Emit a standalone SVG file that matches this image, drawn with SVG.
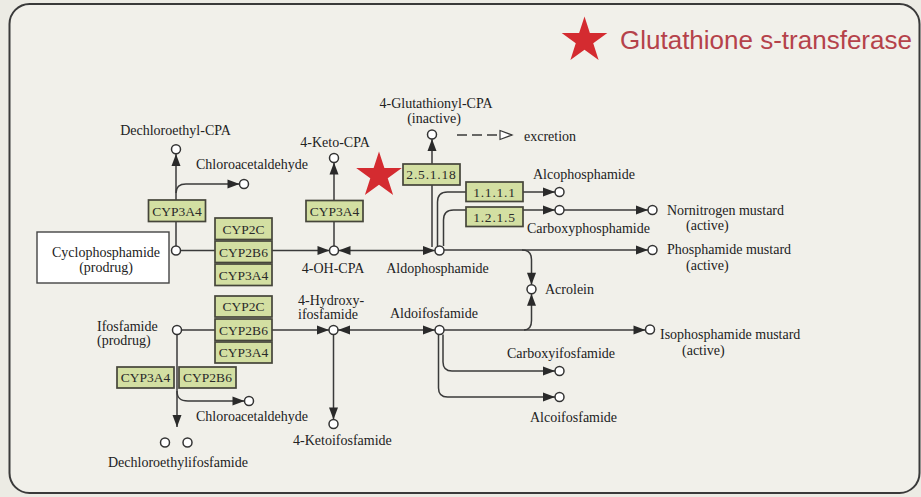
<svg xmlns="http://www.w3.org/2000/svg" width="921" height="497" viewBox="0 0 921 497">
  <defs>
    <style>
      .ln { fill: none; stroke: #3a3a3a; stroke-width: 1.5; }
      .arr { marker-end: url(#head); }
      .dash { fill: none; stroke: #3a3a3a; stroke-width: 1.3; stroke-dasharray: 10 5; marker-end: url(#openhead); }
      .cpd { fill: #ffffff; stroke: #333333; stroke-width: 1.5; }
      .enz rect { fill: #d3dfa2; stroke: #45453a; stroke-width: 1.7; }
      .enz text { font-family: "Liberation Serif", "Times New Roman", serif; font-size: 13.5px; fill: #2a2a2a; text-anchor: middle; }
      .lbl { font-family: "Liberation Serif", "Times New Roman", serif; font-size: 14px; fill: #222222; }
      .mid { text-anchor: middle; }
      .star { fill: #d42b30; }
    </style>
    <marker id="head" markerUnits="userSpaceOnUse" markerWidth="12" markerHeight="10" refX="12" refY="4.5" orient="auto" overflow="visible">
      <path d="M0,0 L12,4.5 L0,9 Z" fill="#2a2a2a"/>
    </marker>
    <marker id="openhead" markerUnits="userSpaceOnUse" markerWidth="13" markerHeight="10" refX="12" refY="4.5" orient="auto" overflow="visible">
      <path d="M0,0 L12,4.5 L0,9 Z" fill="#ffffff" stroke="#3a3a3a" stroke-width="1.2"/>
    </marker>
    <path id="star5" d="M0,-24 L5.39,-7.42 L22.83,-7.42 L8.72,2.83 L14.11,19.42 L0,9.17 L-14.11,19.42 L-8.72,2.83 L-22.83,-7.42 L-5.39,-7.42 Z"/>
  </defs>

  <!-- page and frame -->
  <rect x="0" y="0" width="921" height="497" fill="#ecebe4"/>
  <rect x="9.5" y="4" width="910" height="489" rx="20" ry="20" fill="#f1f0ea" stroke="#3a3a3a" stroke-width="2"/>

  <!-- legend -->
  <g id="legend">
    <use href="#star5" class="star" transform="translate(584.5,40.5)"/>
    <text x="620" y="49" font-family="'Liberation Sans', Arial, sans-serif" font-size="26" fill="#b5424a">Glutathione s-transferase</text>
  </g>

  <!-- reactions -->
  <g id="connectors">
    <!-- cyclophosphamide branch -->
    <path class="ln arr" d="M176,246 V154"/>
    <path class="ln arr" d="M176,193 C176,187 179,184 186,184 H239.5"/>
    <path class="ln arr" d="M180.5,250.5 H329.5"/>
    <path class="ln arr" d="M334,246 V162.5"/>
    <path class="ln arr" d="M387,250.5 H338.5"/>
    <path class="ln arr" d="M387,250.5 H435"/>
    <path class="ln arr" d="M432,247 V139"/>
    <path class="dash" d="M457,135 H512"/>
    <path class="ln arr" d="M437.5,246 V202 Q437.5,192 447.5,192 H555"/>
    <path class="ln arr" d="M443.5,246 V220 Q443.5,210 453.5,210 H555"/>
    <path class="ln arr" d="M564,210 H648"/>
    <path class="ln arr" d="M444,250 H648"/>
    <path class="ln arr" d="M522,250 Q531.5,250 531.5,259.5 V284.8"/>
    <path class="ln arr" d="M524,330 Q531.5,330 531.5,320.5 V293.8"/>
    <!-- ifosfamide branch -->
    <path class="ln arr" d="M181.5,330 H329"/>
    <path class="ln arr" d="M387,330 H338"/>
    <path class="ln arr" d="M387,330 H435"/>
    <path class="ln arr" d="M444,330 H645.5"/>
    <path class="ln arr" d="M443,334.5 V362 Q443,371 452,371 H555"/>
    <path class="ln arr" d="M438.5,334.5 V388 Q438.5,397 447.5,397 H555"/>
    <path class="ln arr" d="M177,334.5 V427"/>
    <path class="ln arr" d="M177,391 C177,398 180,401 188,401 H244.5"/>
    <path class="ln arr" d="M333.5,334.5 V419.5"/>
  </g>

  <!-- enzymes -->
  <g id="enz-cyp3a4-a" class="enz"><rect x="148.5" y="200" width="57" height="21.5"/><text x="177" y="215.5">CYP3A4</text></g>
  <g id="enz-cyp3a4-b" class="enz"><rect x="306" y="200.5" width="57" height="21"/><text x="334.5" y="215.5">CYP3A4</text></g>
  <g id="enz-cyp2c-a" class="enz"><rect x="215" y="218" width="57" height="21.5"/><text x="243.5" y="233.5">CYP2C</text></g>
  <g id="enz-cyp2b6-a" class="enz"><rect x="215" y="241" width="57" height="21.5"/><text x="243.5" y="256.5">CYP2B6</text></g>
  <g id="enz-cyp3a4-c" class="enz"><rect x="215" y="264" width="57" height="21.5"/><text x="243.5" y="279.5">CYP3A4</text></g>
  <g id="enz-cyp2c-b" class="enz"><rect x="215" y="296" width="57" height="21"/><text x="243.5" y="311">CYP2C</text></g>
  <g id="enz-cyp2b6-b" class="enz"><rect x="215" y="319" width="57" height="21.5"/><text x="243.5" y="334.5">CYP2B6</text></g>
  <g id="enz-cyp3a4-d" class="enz"><rect x="215" y="342" width="57" height="21"/><text x="243.5" y="357">CYP3A4</text></g>
  <g id="enz-cyp3a4-e" class="enz"><rect x="117" y="367" width="57" height="21"/><text x="145.5" y="382">CYP3A4</text></g>
  <g id="enz-cyp2b6-c" class="enz"><rect x="179" y="367" width="57" height="21"/><text x="207.5" y="382">CYP2B6</text></g>
  <g id="enz-2.5.1.18" class="enz"><rect x="403" y="164" width="57" height="21"/><text x="431.5" y="179" letter-spacing="0.8">2.5.1.18</text></g>
  <g id="enz-1.1.1.1" class="enz"><rect x="466" y="182" width="57" height="19.5"/><text x="494.5" y="196.5" letter-spacing="0.8">1.1.1.1</text></g>
  <g id="enz-1.2.1.5" class="enz"><rect x="466" y="207" width="57" height="19.5"/><text x="494.5" y="221.5" letter-spacing="0.8">1.2.1.5</text></g>

  <!-- GST marker -->
  <use href="#star5" class="star" transform="translate(379,175.5)"/>

  <!-- compounds -->
  <g id="cyclophosphamide">
    <rect x="37" y="232" width="132" height="51" fill="#ffffff" stroke="#444" stroke-width="1.4"/>
    <text class="lbl mid" x="106" y="257">Cyclophosphamide</text>
    <text class="lbl mid" x="106" y="271.5">(prodrug)</text>
    <circle class="cpd" cx="176" cy="250.5" r="4.5"/>
  </g>
  <g id="dechloroethyl-cpa">
    <circle class="cpd" cx="176" cy="149.3" r="4.5"/>
    <text class="lbl mid" x="175.5" y="135">Dechloroethyl-CPA</text>
  </g>
  <g id="chloroacetaldehyde-1">
    <circle class="cpd" cx="244" cy="184" r="4.5"/>
    <text class="lbl" x="196" y="168.5">Chloroacetaldehyde</text>
  </g>
  <g id="keto-cpa">
    <circle class="cpd" cx="334" cy="158" r="4.5"/>
    <text class="lbl mid" x="335" y="146.5">4-Keto-CPA</text>
  </g>
  <g id="oh-cpa">
    <circle class="cpd" cx="334" cy="250.5" r="4.5"/>
    <text class="lbl mid" x="333" y="273">4-OH-CPA</text>
  </g>
  <g id="glutathionyl-cpa">
    <circle class="cpd" cx="432" cy="134.5" r="4.5"/>
    <text class="lbl mid" x="436" y="108">4-Glutathionyl-CPA</text>
    <text class="lbl mid" x="434" y="122.5">(inactive)</text>
    <text class="lbl" x="524" y="140.5">excretion</text>
  </g>
  <g id="aldophosphamide">
    <circle class="cpd" cx="439.5" cy="250.5" r="4.5"/>
    <text class="lbl mid" x="437.5" y="273">Aldophosphamide</text>
  </g>
  <g id="alcophosphamide">
    <circle class="cpd" cx="559.5" cy="192" r="4.5"/>
    <text class="lbl" x="533" y="179">Alcophosphamide</text>
  </g>
  <g id="carboxyphosphamide">
    <circle class="cpd" cx="559.5" cy="210" r="4.5"/>
    <text class="lbl" x="527" y="233">Carboxyphosphamide</text>
  </g>
  <g id="nornitrogen-mustard">
    <circle class="cpd" cx="652.5" cy="210" r="4.5"/>
    <text class="lbl" x="667" y="215">Nornitrogen mustard</text>
    <text class="lbl" x="686" y="230">(active)</text>
  </g>
  <g id="phosphamide-mustard">
    <circle class="cpd" cx="652.5" cy="250" r="4.5"/>
    <text class="lbl" x="667" y="254">Phosphamide mustard</text>
    <text class="lbl" x="686" y="270">(active)</text>
  </g>
  <g id="acrolein">
    <circle class="cpd" cx="531.5" cy="289.3" r="4.5"/>
    <text class="lbl" x="545" y="293.5">Acrolein</text>
  </g>
  <g id="ifosfamide">
    <circle class="cpd" cx="177" cy="330" r="4.5"/>
    <text class="lbl" x="97" y="331">Ifosfamide</text>
    <text class="lbl" x="97" y="345">(prodrug)</text>
  </g>
  <g id="hydroxy-ifosfamide">
    <circle class="cpd" cx="333.5" cy="330" r="4.5"/>
    <text class="lbl" x="298" y="305" font-size="13">4-Hydroxy-</text>
    <text class="lbl" x="298" y="318.5" font-size="13">ifosfamide</text>
  </g>
  <g id="aldoifosfamide">
    <circle class="cpd" cx="439.5" cy="330" r="4.5"/>
    <text class="lbl" x="390" y="317.5">Aldoifosfamide</text>
  </g>
  <g id="isophosphamide-mustard">
    <circle class="cpd" cx="650" cy="329.5" r="4.5"/>
    <text class="lbl" x="660" y="338.5">Isophosphamide mustard</text>
    <text class="lbl" x="682" y="355">(active)</text>
  </g>
  <g id="carboxyifosfamide">
    <circle class="cpd" cx="559.5" cy="371" r="4.5"/>
    <text class="lbl" x="507" y="358">Carboxyifosfamide</text>
  </g>
  <g id="alcoifosfamide">
    <circle class="cpd" cx="559.5" cy="397" r="4.5"/>
    <text class="lbl" x="530" y="421.5">Alcoifosfamide</text>
  </g>
  <g id="chloroacetaldehyde-2">
    <circle class="cpd" cx="249" cy="401" r="4.5"/>
    <text class="lbl" x="196" y="421">Chloroacetaldehyde</text>
  </g>
  <g id="dechloroethylifosfamide">
    <circle class="cpd" cx="165" cy="442.5" r="4.5"/>
    <circle class="cpd" cx="187.5" cy="442.5" r="4.5"/>
    <text class="lbl" x="108" y="466.5">Dechloroethylifosfamide</text>
  </g>
  <g id="ketoifosfamide">
    <circle class="cpd" cx="333.5" cy="424" r="4.5"/>
    <text class="lbl" x="293" y="445">4-Ketoifosfamide</text>
  </g>
</svg>
